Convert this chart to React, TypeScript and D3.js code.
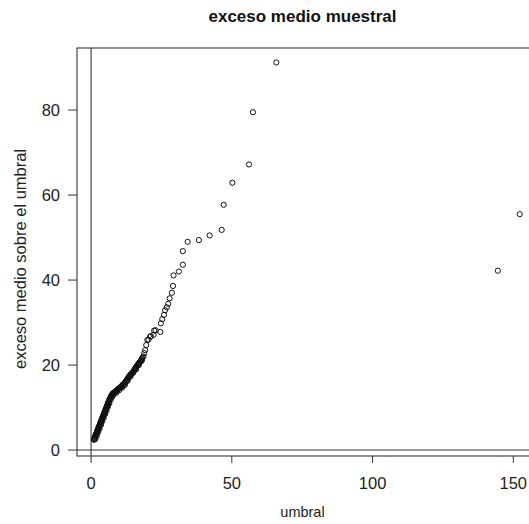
import React from "react";
import * as d3 from "d3";

const title = "exceso medio muestral";
const xLabel = "umbral";
const yLabel = "exceso medio sobre el umbral";
const xTicks = [0, 50, 100, 150];
const yTicks = [0, 20, 40, 60, 80];

// thresholds (umbral)
const umbral = [
  1.0, 1.1, 1.2, 1.3, 1.4, 1.5, 1.6, 1.7, 1.8, 1.9, 2.0, 2.1, 2.2, 2.3, 2.4, 2.5, 2.6, 2.7, 2.8, 2.9,
  3.0, 3.1, 3.2, 3.3, 3.4, 3.5, 3.6, 3.7, 3.8, 3.9, 4.0, 4.1, 4.2, 4.3, 4.4, 4.5, 4.6, 4.7, 4.8, 4.9,
  5.0, 5.1, 5.2, 5.3, 5.4, 5.5, 5.6, 5.7, 5.8, 5.9, 6.0, 6.1, 6.2, 6.3, 6.4, 6.5,
  6.7, 6.9, 7.1, 7.3, 7.5, 7.7, 7.9, 8.1, 8.3, 8.5, 8.7, 8.9, 9.1, 9.3, 9.5, 9.7, 9.9, 10.1, 10.3,
  10.5, 10.7, 10.9, 11.1, 11.3, 11.5, 11.7, 11.9, 12.1, 12.3, 12.5, 12.7, 12.9, 13.1, 13.3, 13.5,
  13.7, 13.9, 14.1, 14.3, 14.5, 14.7, 14.9, 15.1, 15.3, 15.5, 15.7, 15.9, 16.1, 16.3, 16.5, 16.7,
  16.9, 17.1, 17.3, 17.5, 17.7, 17.9, 18.1, 18.3, 18.6,
  1.5, 2.0, 2.5, 3.0, 3.5, 4.0, 4.5, 5.0, 5.5, 6.0, 6.5, 7.0, 7.5, 8.0, 9.0, 10.0, 11.0, 12.0,
  13.0, 14.0, 15.0, 16.0, 17.0, 18.0,
  18.9, 19.2, 19.6, 20.0, 20.4, 21.0, 21.2, 22.2, 22.4, 22.9, 24.6, 24.8, 25.3, 25.9, 26.3, 26.9,
  27.4, 27.9, 28.7, 29.1, 29.3, 31.2, 32.6, 32.6, 34.3, 38.3, 42.1, 46.4, 47.1, 50.2, 56.1, 57.5,
  65.8, 144.5, 152.3,
];

// mean excess over threshold
const excesoMedio = [
  2.4, 2.6, 2.7, 2.9, 3.1, 3.3, 3.4, 3.6, 3.8, 3.9, 4.1, 4.3, 4.5, 4.6, 4.8, 5.0, 5.1, 5.3, 5.5, 5.6,
  5.8, 6.0, 6.2, 6.3, 6.5, 6.7, 6.8, 7.0, 7.2, 7.4, 7.5, 7.7, 7.9, 8.0, 8.2, 8.4, 8.5, 8.7, 8.9, 9.1,
  9.2, 9.4, 9.6, 9.7, 9.9, 10.1, 10.2, 10.4, 10.6, 10.7, 10.9, 11.1, 11.3, 11.4, 11.6, 11.8,
  12.1, 12.4, 12.7, 12.9, 13.1, 13.3, 13.4, 13.5, 13.6, 13.7, 13.8, 13.9, 14.0, 14.1, 14.3, 14.4, 14.5, 14.6, 14.7,
  14.8, 14.9, 15.1, 15.2, 15.4, 15.5, 15.6, 15.7, 15.9, 16.1, 16.3, 16.5, 16.7, 16.9, 17.1, 17.3,
  17.5, 17.7, 17.8, 17.9, 18.0, 18.2, 18.4, 18.6, 18.8, 19.0, 19.2, 19.4, 19.6, 19.8, 20.0, 20.2,
  20.4, 20.5, 20.6, 20.8, 21.0, 21.3, 21.5, 21.8, 22.0,
  2.6, 3.3, 4.2, 5.0, 5.9, 6.8, 7.6, 8.5, 9.3, 10.2, 11.0, 11.9, 12.5, 13.0, 13.5, 14.1, 14.7, 15.3,
  16.3, 17.3, 18.2, 19.0, 20.0, 21.0,
  22.8, 23.5, 24.7, 25.9, 26.0, 26.7, 26.8, 27.1, 28.1, 28.2, 27.8, 29.8, 30.8, 31.8, 32.9, 33.6,
  34.4, 35.7, 37.0, 38.6, 41.1, 42.0, 43.6, 46.8, 49.0, 49.4, 50.5, 51.8, 57.7, 62.9, 67.2, 79.5,
  91.2, 42.2, 55.5,
];

const W = 529;
const H = 524;
const box = { left: 77, right: 533, top: 48, bottom: 456 };
const font = "'Liberation Sans', Arial, Helvetica, sans-serif";
const ink = "#222";

export default function App() {
  const x = d3.scaleLinear().domain([-5, 157]).range([box.left, box.right]);
  const y = d3.scaleLinear().domain([-1.4, 94.6]).range([box.bottom, box.top]);
  const pts = umbral.map((u, i) => [u, excesoMedio[i]] as [number, number]);

  return (
    <div style={{ position: "absolute", left: 0, top: 0 }}>
      <svg width={W} height={H} style={{ display: "block", background: "#fff" }}>
        <rect x={0} y={0} width={W} height={H} fill="#fff" />
        <text x={302.5} y={22} textAnchor="middle" fontFamily={font} fontWeight="bold" fontSize={17} fill="#111">
          {title}
        </text>
        {/* reference lines at 0 */}
        <line x1={x(0)} x2={x(0)} y1={box.top} y2={box.bottom} stroke="#333" strokeWidth={1.1} />
        <line x1={box.left} x2={W} y1={y(0)} y2={y(0)} stroke="#333" strokeWidth={1.1} />
        {/* box */}
        <rect x={box.left} y={box.top} width={box.right - box.left} height={box.bottom - box.top}
          fill="none" stroke="#333" strokeWidth={1.1} />
        {/* x axis */}
        {xTicks.map((t) => (
          <g key={"x" + t}>
            <line x1={x(t)} x2={x(t)} y1={box.bottom} y2={box.bottom + 7} stroke="#333" strokeWidth={1} />
            <text x={x(t)} y={488.5} textAnchor="middle" fontFamily={font} fontSize={16.5} fill={ink}>
              {t}
            </text>
          </g>
        ))}
        {/* y axis */}
        {yTicks.map((t) => (
          <g key={"y" + t}>
            <line x1={box.left - 9} x2={box.left} y1={y(t)} y2={y(t)} stroke="#333" strokeWidth={1} />
            <text x={60} y={y(t)} dy="0.36em" textAnchor="end" fontFamily={font} fontSize={16.5} fill={ink}>
              {t}
            </text>
          </g>
        ))}
        <text x={302.5} y={517} textAnchor="middle" fontFamily={font} fontSize={14.5} fill={ink}>
          {xLabel}
        </text>
        <text transform={`translate(26,${259}) rotate(-90)`} textAnchor="middle" fontFamily={font} fontSize={16.5} fill={ink}>
          {yLabel}
        </text>
        {/* points */}
        <g fill="none" stroke="#111" strokeWidth={1}>
          {pts.map((p, i) => (
            <circle key={i} cx={x(p[0])} cy={y(p[1])} r={2.6} />
          ))}
        </g>
      </svg>
    </div>
  );
}
